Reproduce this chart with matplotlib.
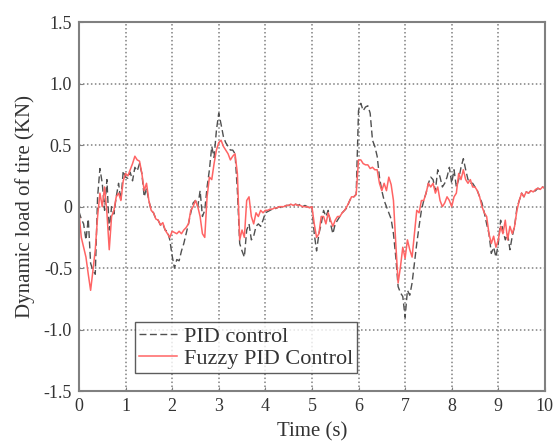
import matplotlib
matplotlib.use('Agg')
import matplotlib.pyplot as plt
import numpy as np

# time grid (s), 0.05 s steps
t = np.round(np.arange(0, 10.0001, 0.05), 2)

# dynamic tyre load (kN), 10 samples per row = 0.5 s
pid = [
    -0.04, -0.10, -0.14, -0.27, -0.10, -0.46, -0.52, -0.55, 0.08, 0.31,
    0.19, -0.03, 0.22, -0.19, 0.00, -0.06, 0.08, 0.19, 0.05, 0.29,
    0.24, 0.23, 0.28, 0.21, 0.32, 0.29, 0.35, 0.27, 0.08, 0.15,
    0.05, -0.03, -0.05, -0.10, -0.11, -0.15, -0.14, -0.19, -0.20, -0.27,
    -0.40, -0.50, -0.43, -0.44, -0.36, -0.30, -0.22, -0.14, -0.05, 0.03,
    0.05, 0.00, 0.13, -0.08, -0.03, 0.16, 0.30, 0.49, 0.40, 0.62,
    0.76, 0.67, 0.57, 0.52, 0.49, 0.46, 0.46, 0.43, 0.13, -0.30,
    -0.36, -0.41, -0.19, -0.14, -0.27, -0.24, -0.16, -0.14, -0.16, -0.11,
    -0.05, -0.04, -0.03, -0.02, -0.02, -0.01, 0.00, -0.01, 0.00, 0.01,
    0.01, 0.02, 0.01, 0.02, 0.01, 0.02, 0.00, 0.01, 0.00, -0.01,
    0.00, -0.22, -0.36, -0.22, -0.14, -0.03, -0.08, -0.03, -0.14, -0.22,
    -0.14, -0.11, -0.08, -0.05, -0.03, -0.01, 0.04, 0.08, 0.08, 0.10,
    0.78, 0.84, 0.78, 0.81, 0.82, 0.76, 0.54, 0.49, 0.41, 0.24,
    0.13, 0.05, 0.00, -0.05, -0.10, -0.22, -0.41, -0.65, -0.70, -0.73,
    -0.90, -0.68, -0.72, -0.62, -0.46, -0.30, -0.16, -0.03, 0.05, 0.11,
    0.19, 0.24, 0.22, 0.13, 0.30, 0.24, 0.16, 0.19, 0.24, 0.32,
    0.19, 0.30, 0.16, 0.22, 0.32, 0.39, 0.30, 0.22, 0.19, 0.19,
    0.16, 0.13, 0.08, 0.03, -0.05, -0.14, -0.22, -0.38, -0.33, -0.41,
    -0.30, -0.11, -0.19, -0.27, -0.22, -0.35, -0.24, -0.16, -0.01, 0.05,
    0.11, 0.08, 0.12, 0.11, 0.13, 0.12, 0.13, 0.15, 0.14, 0.16,
    0.15,
]
fuzzy = [
    -0.05, -0.25, -0.33, -0.41, -0.55, -0.68, -0.52, -0.35, -0.08, 0.11,
    0.00, 0.16, -0.05, -0.35, -0.08, -0.03, 0.08, 0.11, 0.05, 0.21,
    0.27, 0.25, 0.30, 0.35, 0.41, 0.38, 0.37, 0.27, 0.13, 0.19,
    0.05, -0.03, -0.05, -0.10, -0.11, -0.15, -0.13, -0.19, -0.22, -0.25,
    -0.20, -0.21, -0.22, -0.20, -0.22, -0.19, -0.17, -0.14, -0.03, 0.00,
    0.05, 0.00, -0.08, -0.22, -0.25, 0.08, 0.24, 0.22, 0.35, 0.46,
    0.52, 0.54, 0.49, 0.46, 0.43, 0.38, 0.41, 0.43, 0.27, -0.27,
    -0.19, -0.25, 0.05, 0.08, -0.08, -0.14, -0.05, -0.08, -0.03, -0.05,
    -0.03, -0.03, -0.02, -0.02, -0.01, -0.01, 0.00, 0.00, 0.00, 0.01,
    0.01, 0.02, 0.01, 0.02, 0.01, 0.01, 0.00, 0.00, 0.00, -0.01,
    0.00, -0.14, -0.25, -0.22, -0.08, -0.08, -0.14, -0.05, -0.11, -0.16,
    -0.11, -0.08, -0.08, -0.05, -0.03, 0.00, 0.04, 0.08, 0.08, 0.10,
    0.38, 0.38, 0.35, 0.34, 0.34, 0.31, 0.32, 0.30, 0.30, 0.19,
    0.13, 0.19, 0.13, 0.24, 0.18, 0.05, -0.30, -0.62, -0.49, -0.33,
    -0.42, -0.27, -0.35, -0.41, -0.22, -0.03, -0.05, 0.05, 0.05, 0.11,
    0.19, 0.16, 0.19, 0.11, 0.16, 0.05, 0.00, 0.03, 0.08, 0.05,
    0.00, 0.08, 0.11, 0.27, 0.22, 0.30, 0.22, 0.19, 0.22, 0.16,
    0.16, 0.13, 0.08, 0.00, -0.05, -0.08, -0.22, -0.30, -0.24, -0.33,
    -0.27, -0.16, -0.22, -0.11, -0.27, -0.16, -0.22, -0.16, -0.03, 0.05,
    0.11, 0.08, 0.12, 0.11, 0.13, 0.12, 0.14, 0.15, 0.14, 0.16,
    0.15,
]

xticks = list(range(0, 11))
yticks = [-1.5, -1.0, -0.5, 0, 0.5, 1.0, 1.5]
ytick_labels = ['-1.5', '-1.0', '-0.5', '0', '0.5', '1.0', '1.5']

plt.rcParams['font.family'] = ['Liberation Serif', 'DejaVu Serif']
txt = '#333333'

fig = plt.figure(figsize=(5.6, 4.43), dpi=100)
ax = fig.add_axes([0.141, 0.117, 0.832, 0.833])

ax.plot(t, pid, color='#505050', lw=1.0, ls=(0, (5, 2.5)), label='PID control')
ax.plot(t, fuzzy, color='#ff6464', lw=1.1, label='Fuzzy PID Control')

ax.set_xlim(0, 10)
ax.set_ylim(-1.5, 1.5)
ax.set_xticks(xticks)
ax.set_yticks(yticks)
ax.set_yticklabels(ytick_labels)
ax.tick_params(direction='in', length=3, colors='#808080', labelcolor=txt,
               labelsize=13, pad=5)
ax.grid(True, color='#808080', ls=(0, (1, 1.6)), lw=1.1)
for s in ax.spines.values():
    s.set_color('#808080')
    s.set_linewidth(1.5)

ax.set_xlabel('Time (s)', fontsize=15, color=txt, labelpad=5)
ax.set_ylabel('Dynamic load of tire (KN)', fontsize=15, color=txt, labelpad=6)

leg = ax.legend(loc='lower left', bbox_to_anchor=(0.12, 0.049), borderaxespad=0,
                fontsize=16, frameon=True, fancybox=False, handlelength=1.7,
                handletextpad=0.3, labelspacing=0.05, borderpad=0.2)
leg.get_frame().set_edgecolor('#333333')
leg.get_frame().set_linewidth(1.0)
for tx in leg.get_texts():
    tx.set_color(txt)

fig.savefig('out.png', dpi=100, facecolor='white')
